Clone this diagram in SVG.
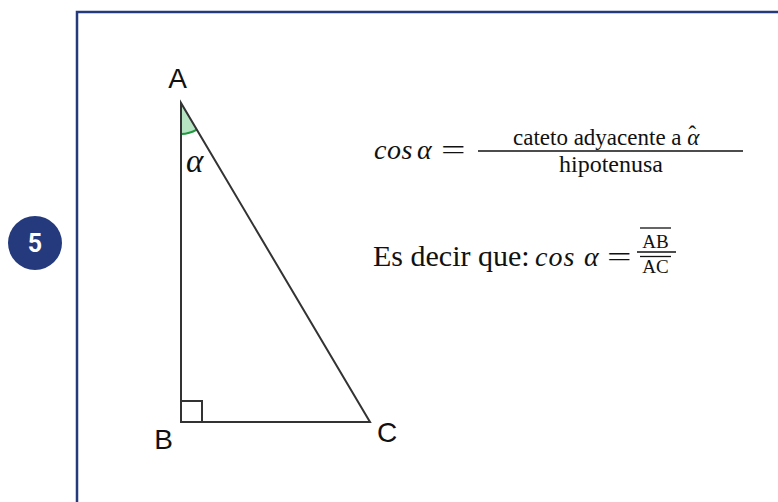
<svg xmlns="http://www.w3.org/2000/svg" width="778" height="502" viewBox="0 0 778 502">
  <style>
    .navy { fill: #243a7c; }
    .frame { fill: none; stroke: #243a7c; stroke-width: 2.5; }
    .edge { fill: none; stroke: #333333; stroke-width: 2; stroke-linecap: round; }
    .lbl { font-family: "Liberation Sans", Arial, sans-serif; font-size: 28px; fill: #111111; }
    .serif { font-family: "Liberation Serif", "Times New Roman", serif; fill: #111111; }
    .it { font-style: italic; }
    .rule { stroke: #111111; stroke-width: 1.3; }
  </style>
  <rect x="0" y="0" width="778" height="502" fill="#ffffff"/>
  <rect class="frame" x="77" y="12" width="720" height="510"/>
  <g id="badge">
    <circle class="navy" cx="35" cy="243" r="27"/>
    <text x="35" y="252" text-anchor="middle" font-family="Roboto, 'Liberation Sans', sans-serif" font-weight="bold" font-size="25" fill="#ffffff">5</text>
  </g>
  <g id="triangle">
    <path d="M181,103 L181,134 A31,31 0 0 0 196.8,129.7 Z" fill="#b7e4c3"/>
    <path d="M181,134 A31,31 0 0 0 196.8,129.7" fill="none" stroke="#1f9a3e" stroke-width="2"/>
    <polygon class="edge" points="181,103 181,422 370,422"/>
    <polyline class="edge" points="181,401 202,401 202,422"/>
    <text class="lbl" x="177.5" y="88" text-anchor="middle">A</text>
    <text class="lbl" x="163.5" y="449" text-anchor="middle">B</text>
    <text class="lbl" x="387" y="442" text-anchor="middle">C</text>
    <text class="serif it" x="186" y="172" font-size="33" fill="#444444">α</text>
  </g>
  <g id="formula1">
    <text class="serif it" x="374" y="159" font-size="28" letter-spacing="0.5">cos</text>
    <text class="serif it" x="417" y="159" font-size="28">α</text>
    <text class="serif" transform="translate(441,159) scale(1.55,1)" font-size="28">=</text>
    <line class="rule" x1="478" y1="151" x2="743" y2="151"/>
    <text class="serif" x="513" y="145" font-size="23">cateto adyacente a <tspan font-style="italic">α</tspan><tspan dx="-11" dy="-3">ˆ</tspan></text>
    <text class="serif" x="611" y="172" font-size="24" text-anchor="middle">hipotenusa</text>
  </g>
  <g id="formula2">
    <text class="serif" x="373" y="266" font-size="30">Es decir que:</text>
    <text class="serif it" x="535" y="266" font-size="28" letter-spacing="1">cos</text>
    <text class="serif it" x="584" y="266" font-size="28">α</text>
    <text class="serif" transform="translate(607,266) scale(1.55,1)" font-size="28">=</text>
    <line class="rule" x1="637" y1="252" x2="676" y2="252"/>
    <line class="rule" x1="640" y1="228" x2="671" y2="228"/>
    <text class="serif" x="655.5" y="248" font-size="19" text-anchor="middle">AB</text>
    <line class="rule" x1="640" y1="256.5" x2="671" y2="256.5"/>
    <text class="serif" x="655.5" y="273" font-size="19" text-anchor="middle">AC</text>
  </g>
</svg>
